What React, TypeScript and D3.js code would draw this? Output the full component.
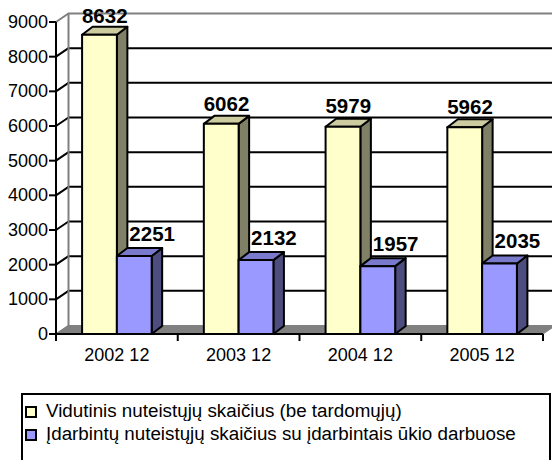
import React from "react";
import * as d3 from "d3";

const categories = ["2002 12", "2003 12", "2004 12", "2005 12"];
const seriesNames = [
  "Vidutinis nuteistųjų skaičius (be tardomųjų)",
  "Įdarbintų nuteistųjų skaičius su įdarbintais ūkio darbuose",
];
const seriesA = [8632, 6062, 5979, 5962];
const seriesB = [2251, 2132, 1957, 2035];
const yTicks = [0, 1000, 2000, 3000, 4000, 5000, 6000, 7000, 8000, 9000];

const W = 552;
const H = 460;
const FONT = "'Liberation Sans', Arial, sans-serif";

const faceColors = [
  { front: "#FFFFCC", top: "#CCCCA0", side: "#808066" },
  { front: "#9999FF", top: "#7A7ACC", side: "#4D4D80" },
];

export default function App() {
  const x0 = 56;
  const x1 = 543;
  const y = d3.scaleLinear().domain([0, 9000]).range([334, 22]);
  const xBand = d3.scaleBand<string>().domain(categories).range([x0, x1]).paddingInner(0).paddingOuter(0);
  const sub = d3
    .scaleBand<number>()
    .domain([0, 1])
    .range([0, xBand.bandwidth()])
    .paddingInner(0)
    .paddingOuter(0.75);
  const wdx = 12.5;
  const wdy = -8.5;
  const bdx = 10.5;
  const bdy = -8;
  const yMax = y(9000);
  const yMin = y(0);
  const rightEdge = W + 20;
  const tickFont = 18;
  const legendFont = 18.8;

  const seriesData = [seriesA, seriesB];
  const bw = sub.bandwidth();

  const bars: any[] = [];
  categories.forEach((c, ci) => {
    seriesData.forEach((s, si) => {
      const v = s[ci];
      const xl = (xBand(c) as number) + (sub(si) as number);
      const xr = xl + bw;
      const yt = y(v);
      const yb = y(0);
      bars.push({ ci, si, v, xl, xr, yt, yb });
    });
  });

  const labelSize = 20.5;
  const labelW = (txt: string) => txt.length * 0.556 * labelSize;
  const labels = bars.map((b, i) => {
    const txt = String(b.v);
    const w = labelW(txt);
    let cx = (b.xl + b.xr) / 2 + bdx / 2;
    if (b.si === 1) {
      const left = bars[i - 1];
      const minLeft = left.xr + bdx + 2;
      if (cx - w / 2 < minLeft) cx = minLeft + w / 2;
    }
    const yb = b.yt - 12 - (1 - b.v / 9000) * 4;
    return { txt, cx, yb };
  });

  const pts = (arr: number[][]) => arr.map((p) => p.join(",")).join(" ");

  return (
    <svg
      width={W}
      height={H}
      style={{ position: "absolute", left: 0, top: 0, background: "#fff" }}
      fontFamily={FONT}
    >
      <polygon
        points={pts([
          [x0, yMin],
          [x1, yMin],
          [x1 + wdx, yMin + wdy],
          [x0 + wdx, yMin + wdy],
        ])}
        fill="#808080"
        stroke="#808080"
        strokeWidth={1}
      />
      {yTicks
        .filter((t) => t > 0 && t < 9000)
        .map((t) => (
          <line
            key={"bg" + t}
            x1={x0 + wdx}
            x2={rightEdge}
            y1={y(t) + wdy}
            y2={y(t) + wdy}
            stroke="#000"
            strokeWidth={2}
          />
        ))}
      {yTicks
        .filter((t) => t > 0 && t < 9000)
        .map((t) => (
          <line
            key={"sg" + t}
            x1={x0}
            x2={x0 + wdx}
            y1={y(t)}
            y2={y(t) + wdy}
            stroke="#000"
            strokeWidth={2}
          />
        ))}
      <polyline
        points={pts([
          [x0, yMax],
          [x0 + wdx, yMax + wdy],
          [rightEdge, yMax + wdy],
        ])}
        fill="none"
        stroke="#808080"
        strokeWidth={2}
      />
      <line x1={x0 + wdx} x2={x0 + wdx} y1={yMax + wdy} y2={yMin + wdy} stroke="#808080" strokeWidth={2} />
      <line x1={x0} x2={x0 + wdx} y1={yMin} y2={yMin + wdy} stroke="#808080" strokeWidth={1.5} />

      <line x1={x0} x2={x0} y1={yMax} y2={yMin} stroke="#000" strokeWidth={2} />
      {yTicks.map((t) => (
        <g key={"yt" + t}>
          <line x1={x0 - 7} x2={x0} y1={y(t)} y2={y(t)} stroke="#000" strokeWidth={2} />
          <text x={x0 - 8} y={y(t) + 6} textAnchor="end" fontSize={tickFont} fill="#000">
            {t}
          </text>
        </g>
      ))}

      <line x1={x0} x2={x1} y1={yMin} y2={yMin} stroke="#000" strokeWidth={2} />
      {[...categories.map((c) => xBand(c) as number), x1].map((xv, i) => (
        <line key={"xt" + i} x1={xv} x2={xv} y1={yMin} y2={yMin + 7} stroke="#000" strokeWidth={2} />
      ))}
      {categories.map((c) => (
        <text
          key={"xl" + c}
          x={(xBand(c) as number) + xBand.bandwidth() / 2}
          y={361}
          textAnchor="middle"
          fontSize={tickFont}
          fill="#000"
        >
          {c}
        </text>
      ))}

      {bars.map((b, i) => {
        const col = faceColors[b.si];
        return (
          <g key={"bar" + i} stroke="#000" strokeWidth={2} strokeLinejoin="round">
            <polygon
              points={pts([
                [b.xr, b.yt],
                [b.xr + bdx, b.yt + bdy],
                [b.xr + bdx, b.yb + bdy],
                [b.xr, b.yb],
              ])}
              fill={col.side}
            />
            <polygon
              points={pts([
                [b.xl, b.yt],
                [b.xl + bdx, b.yt + bdy],
                [b.xr + bdx, b.yt + bdy],
                [b.xr, b.yt],
              ])}
              fill={col.top}
            />
            <rect x={b.xl} y={b.yt} width={b.xr - b.xl} height={b.yb - b.yt} fill={col.front} />
          </g>
        );
      })}

      {labels.map((l, i) => (
        <text
          key={"lab" + i}
          x={l.cx}
          y={l.yb}
          textAnchor="middle"
          fontSize={labelSize}
          fontWeight="bold"
          fill="#000"
        >
          {l.txt}
        </text>
      ))}

      <rect x={22} y={394} width={528} height={80} fill="#fff" stroke="#000" strokeWidth={2} />
      {seriesNames.map((n, i) => {
        const by = 417 + i * 23;
        return (
          <g key={"lg" + i}>
            <rect x={26} y={by - 10} width={10} height={10} fill={faceColors[i].front} stroke="#000" strokeWidth={2} />
            <text x={46} y={by} fontSize={legendFont} fill="#000">
              {n}
            </text>
          </g>
        );
      })}
    </svg>
  );
}
